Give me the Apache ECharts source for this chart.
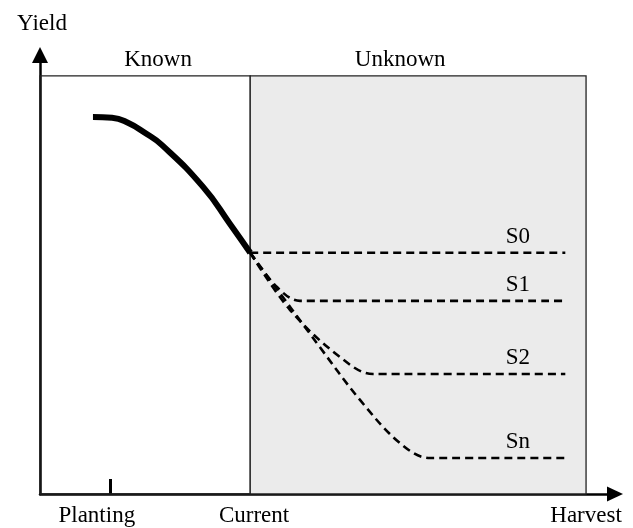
<!DOCTYPE html>
<html>
<head>
<meta charset="utf-8">
<title>Yield</title>
<script src="https://cdn.jsdelivr.net/npm/echarts@6/dist/echarts.min.js"></script>
<style>
html, body { margin: 0; padding: 0; background: #fff; }
#main { width: 633px; height: 528px; }
</style>
</head>
<body>
<div id="main"></div>
<script>
// time runs 0 (start of box) .. 100 (harvest), yield 0 .. 100 (top of box)
var currentX = 38.5;
var harvestX = 100;
var plantingTick = [12.8];
var stageNames = ["Planting", "Current", "Harvest"];
var stagePos = [10.4, 39.2, 100];

// known part of the season (thick curve)
var knownX = [9.7, 13.2, 16.1, 19.2, 22.3, 29.9, 34.8, 38.5];
var knownY = [90.2, 90.0, 88.8, 86.4, 83.5, 73.4, 64.6, 57.7];

// scenarios after the current date
var s0X = [38.5, 96.2];
var s0Y = [57.7, 57.7];
var s1X = [38.5, 43.4, 47.6, 96.2];
var s1Y = [57.7, 49.5, 46.2, 46.2];
var s2X = [38.5, 45.8, 54.9, 61.0, 96.2];
var s2Y = [57.7, 44.0, 32.8, 28.7, 28.7];
var snX = [38.5, 50.7, 58.6, 65.9, 71.4, 96.2];
var snY = [57.7, 36.1, 22.5, 12.2, 8.6, 8.6];

var scenNames = ["S0", "S1", "S2", "Sn"];
var scenX = [s0X, s1X, s2X, snX];
var scenY = [s0Y, s1Y, s2Y, snY];
var labelX = 87.5;

var serif = "Liberation Serif";
var fs = 23;

function pairs(xs, ys) {
	var arr = [];
	for (var i = 0; i < xs.length; i++) {
		arr.push([xs[i], ys[i]]);
	}
	return arr;
}

var myChart = echarts.init(document.getElementById("main"));

var series = [ {
	name : "Known",
	type : "line",
	smooth : 0.5,
	symbol : "none",
	z : 5,
	lineStyle : {
		color : "#000",
		width : 6,
		cap : "butt"
	},
	data : pairs(knownX, knownY),
	markArea : {
		silent : true,
		label : {
			position : "top",
			distance : 4,
			color : "#000",
			fontFamily : serif,
			fontSize : fs
		},
		data : [ [ {
			xAxis : 0,
			yAxis : 0,
			name : "Known",
			label : { offset : [ 13, 0 ] },
			itemStyle : {
				color : "rgba(0,0,0,0)",
				borderColor : "#222",
				borderWidth : 1.3
			}
		}, {
			xAxis : currentX,
			yAxis : 100
		} ], [ {
			xAxis : currentX,
			yAxis : 0,
			name : "Unknown",
			label : { offset : [ -18, 0 ] },
			itemStyle : {
				color : "#ebebeb",
				borderColor : "#222",
				borderWidth : 1.3
			}
		}, {
			xAxis : harvestX,
			yAxis : 100
		} ] ]
	}
} ];

for (var k = 0; k < scenNames.length; k++) {
	var ys = scenY[k];
	series.push({
		name : scenNames[k],
		type : "line",
		smooth : 0.35,
		symbol : "none",
		z : 4,
		lineStyle : {
			color : "#000",
			width : 2.6,
			type : [ 8, 5 ]
		},
		data : pairs(scenX[k], ys),
		markPoint : {
			silent : true,
			symbol : "circle",
			symbolSize : 1,
			itemStyle : { color : "rgba(0,0,0,0)" },
			label : {
				show : true,
				position : "top",
				distance : 4,
				formatter : scenNames[k],
				color : "#000",
				fontFamily : serif,
				fontSize : fs
			},
			data : [ { coord : [ labelX, ys[ys.length - 1] ] } ]
		}
	});
}

var option = {
	animation : false,
	backgroundColor : "#fff",
	grid : {
		left : 40,
		right : 18,
		top : 55,
		bottom : 34,
		outerBoundsMode : "none"
	},
	xAxis : {
		type : "value",
		min : 0,
		max : 105.3,
		splitLine : { show : false },
		axisLine : {
			onZero : false,
			symbol : [ "none", "triangle" ],
			symbolSize : [ 15, 16 ],
			lineStyle : { color : "#000", width : 2.5 }
		},
		axisTick : {
			show : true,
			inside : true,
			length : 15,
			customValues : plantingTick,
			lineStyle : { color : "#000", width : 3 }
		},
		axisLabel : {
			show : true,
			margin : 10,
			customValues : stagePos,
			color : "#000",
			fontFamily : serif,
			fontSize : fs,
			formatter : function(v) {
				var i = stagePos.indexOf(v);
				return i >= 0 ? stageNames[i] : "";
			}
		}
	},
	yAxis : {
		type : "value",
		min : 0,
		max : 105,
		name : "Yield",
		nameLocation : "end",
		nameGap : 20,
		nameTextStyle : {
			color : "#000",
			fontFamily : serif,
			fontSize : fs,
			align : "center",
			padding : [ 0, 0, 0, 4 ]
		},
		splitLine : { show : false },
		axisLine : {
			symbol : [ "none", "triangle" ],
			symbolSize : [ 16, 16 ],
			lineStyle : { color : "#000", width : 2.5 }
		},
		axisTick : { show : false },
		axisLabel : { show : false }
	},
	series : series
};
myChart.setOption(option);
</script>
</body>
</html>
